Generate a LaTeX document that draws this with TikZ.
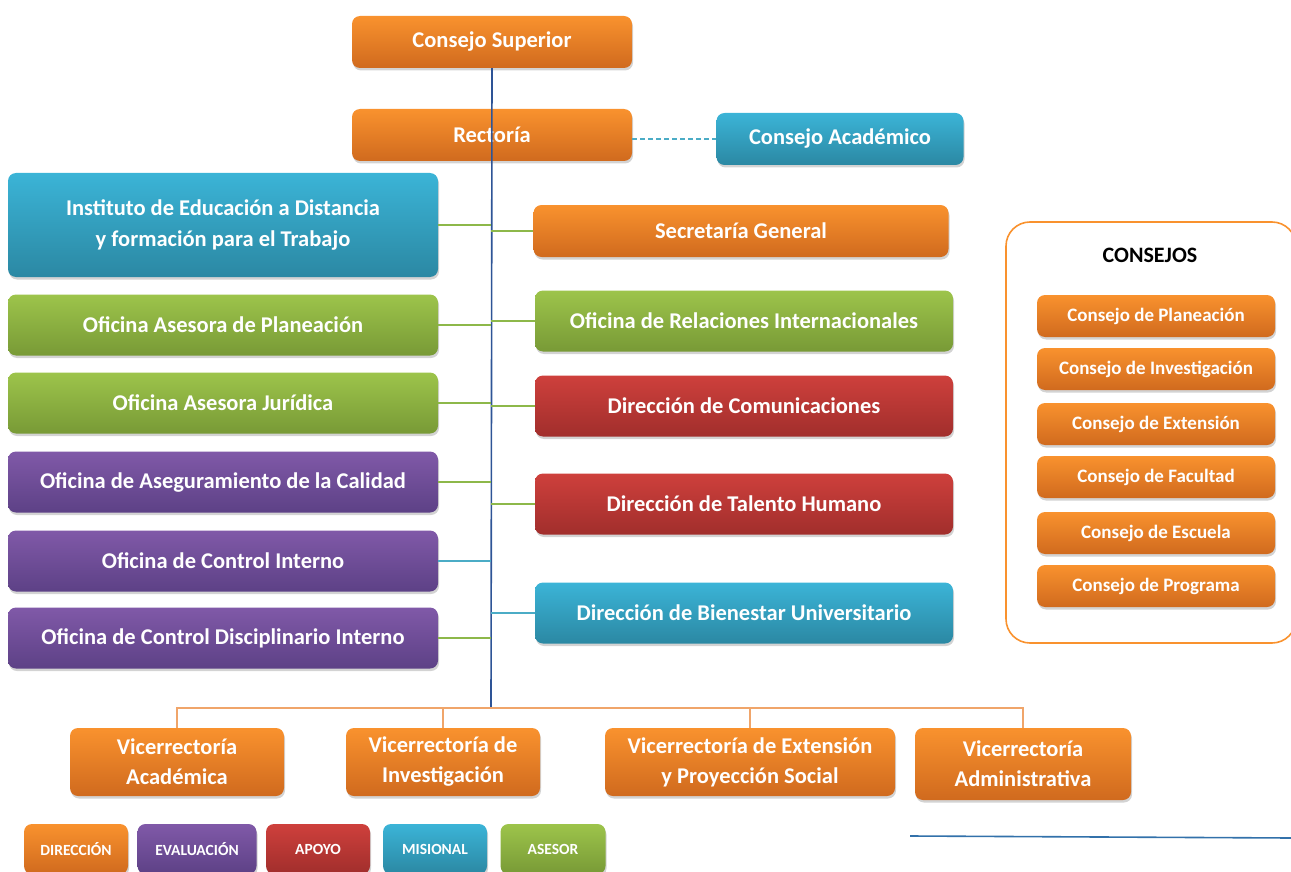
\documentclass[tikz,border=0pt]{standalone}
\usepackage{fontspec}
\setmainfont{Carlito}
\usetikzlibrary{positioning, shadows}
\definecolor{naranjaA}{HTML}{F9922E}
\definecolor{naranjaB}{HTML}{D06A1E}
\definecolor{azulA}{HTML}{3BB4D7}
\definecolor{azulB}{HTML}{2B88A3}
\definecolor{verdeA}{HTML}{9DC44B}
\definecolor{verdeB}{HTML}{789A36}
\definecolor{moradoA}{HTML}{8059A8}
\definecolor{moradoB}{HTML}{5D4186}
\definecolor{rojoA}{HTML}{CE403C}
\definecolor{rojoB}{HTML}{A12E2C}
\definecolor{lineaeje}{HTML}{2E5496}
\definecolor{lineaverde}{HTML}{8DB84A}
\definecolor{lineaazul}{HTML}{4BACC6}
\definecolor{lineanaranja}{HTML}{F0A56A}
\tikzstyle{caja}=[rectangle,rounded corners=8pt,inner sep=0pt,align=center,text=white,
  font=\bfseries\fontsize{22.5}{30}\selectfont,
  drop shadow={opacity=0.35,shadow xshift=1pt,shadow yshift=-2.5pt}]
\tikzstyle{direccion}=[caja,top color=naranjaA,bottom color=naranjaB]
\tikzstyle{misional}=[caja,top color=azulA,bottom color=azulB]
\tikzstyle{asesor}=[caja,top color=verdeA,bottom color=verdeB]
\tikzstyle{evaluacion}=[caja,top color=moradoA,bottom color=moradoB]
\tikzstyle{apoyo}=[caja,top color=rojoA,bottom color=rojoB]
\tikzstyle{izq}=[minimum width=430,minimum height=61]
\tikzstyle{der}=[minimum width=418,minimum height=61]
\tikzstyle{consejo}=[direccion,minimum width=238,minimum height=42,font=\bfseries\fontsize{19}{22}\selectfont]
\tikzstyle{leyenda}=[minimum width=104,minimum height=50,font=\bfseries\fontsize{15.5}{17}\selectfont]
\tikzstyle{vice}=[minimum height=68]
\tikzstyle{eje}=[draw=lineaeje,line width=1.6pt]
\tikzstyle{ramav}=[draw=lineaverde,line width=1.6pt]
\tikzstyle{ramaa}=[draw=lineaazul,line width=1.6pt]
\tikzstyle{bus}=[draw=lineanaranja,line width=1.2pt]

\begin{document}
\begin{tikzpicture}[x=1pt,y=-1pt]
  \useasboundingbox (0,0) rectangle (1291,872);
  % nivel superior
  \node[direccion,minimum width=280,minimum height=52] (csup) at (492,42) {Consejo Superior};
  \node[direccion,minimum width=280,minimum height=52] (rect) at (492,135) {Rectoría};
  \node[misional,minimum width=247,minimum height=52] (cacad) at (840,139) {Consejo Académico};
  \coordinate (bus) at (491,708);
  % columna izquierda
  \node[misional,minimum width=430,minimum height=104,font=\bfseries\fontsize{22.5}{31}\selectfont] (inst) at (223,225) {Instituto de Educación a Distancia\\y formación para el Trabajo};
  \node[asesor,izq] (plan) at (223,325) {Oficina Asesora de Planeación};
  \node[asesor,izq] (jur) at (223,403) {Oficina Asesora Jurídica};
  \node[evaluacion,izq] (cal) at (223,482) {Oficina de Aseguramiento de la Calidad};
  \node[evaluacion,izq] (cint) at (223,561) {Oficina de Control Interno};
  \node[evaluacion,izq] (cdis) at (223,638) {Oficina de Control Disciplinario Interno};
  % columna derecha
  \node[direccion,minimum width=415,minimum height=52] (sec) at (741,231) {Secretaría General};
  \node[asesor,der] (rel) at (744,321) {Oficina de Relaciones Internacionales};
  \node[apoyo,der] (com) at (744,406) {Dirección de Comunicaciones};
  \node[apoyo,der] (tal) at (744,504) {Dirección de Talento Humano};
  \node[misional,der] (bien) at (744,613) {Dirección de Bienestar Universitario};
  % vicerrectorias
  \node[direccion,vice,minimum width=214] (vacad) at (177,762) {Vicerrectoría\\Académica};
  \node[direccion,vice,minimum width=194] (vinv) at (443,762) {Vicerrectoría de\\Investigación};
  \node[direccion,vice,minimum width=290] (vext) at (750,762) {Vicerrectoría de Extensión\\y Proyección Social};
  \node[direccion,vice,minimum width=216,minimum height=72] (vadm) at (1023,764) {Vicerrectoría\\Administrativa};
  % consejos
  \node[draw=naranjaA,line width=1.6pt,rounded corners=24pt,minimum width=290,minimum height=421] (marco) at (1151,432.5) {};
  \node[font=\bfseries\fontsize{22}{24}\selectfont] (tconsejos) at (1150,255) {CONSEJOS};
  \node[consejo] (cpla) at (1156,316) {Consejo de Planeación};
  \node[consejo] (cinv) at (1156,369) {Consejo de Investigación};
  \node[consejo] (cext) at (1156,424) {Consejo de Extensión};
  \node[consejo] (cfac) at (1156,477) {Consejo de Facultad};
  \node[consejo] (cesc) at (1156,533) {Consejo de Escuela};
  \node[consejo] (cpro) at (1156,586) {Consejo de Programa};
  % leyenda
  \node[direccion,leyenda] (ldir) at (76,849) {DIRECCIÓN};
  \node[evaluacion,leyenda,minimum width=119] (leva) at (197,849) {EVALUACIÓN};
  \node[apoyo,leyenda] (lapo) at (318,849) {APOYO};
  \node[misional,leyenda] (lmis) at (435,849) {MISIONAL};
  \node[asesor,leyenda,minimum width=105] (lase) at (553,849) {ASESOR};
  % conectores
  \draw[eje] (csup.south) -- (bus);
  \draw[draw=lineaazul,line width=1.8pt,dash pattern=on 5pt off 3pt] (cacad.west -| rect.east) -- (cacad.west);
  \draw[ramav] (inst.east) -- (inst.east -| bus);
  \draw[ramav] (plan.east) -- (plan.east -| bus);
  \draw[ramav] (jur.east) -- (jur.east -| bus);
  \draw[ramav] (cal.east) -- (cal.east -| bus);
  \draw[ramaa] (cint.east) -- (cint.east -| bus);
  \draw[ramav] (cdis.east) -- (cdis.east -| bus);
  \draw[ramav] (sec.west) -- (sec.west -| bus);
  \draw[ramav] (rel.west) -- (rel.west -| bus);
  \draw[ramav] (com.west) -- (com.west -| bus);
  \draw[ramav] (tal.west) -- (tal.west -| bus);
  \draw[ramaa] (bien.west) -- (bien.west -| bus);
  \draw[bus] (vacad.north) -- (vacad.north |- bus) -- (vadm.north |- bus) -- (vadm.north);
  \draw[bus] (vinv.north) -- (vinv.north |- bus);
  \draw[bus] (vext.north) -- (vext.north |- bus);
  % linea inferior
  \coordinate (pie1) at (910,836);
  \coordinate (pie2) at (1291,838);
  \draw[draw=lineaeje!70!azulA,line width=1.6pt] (pie1) -- (pie2);
\end{tikzpicture}
\end{document}
